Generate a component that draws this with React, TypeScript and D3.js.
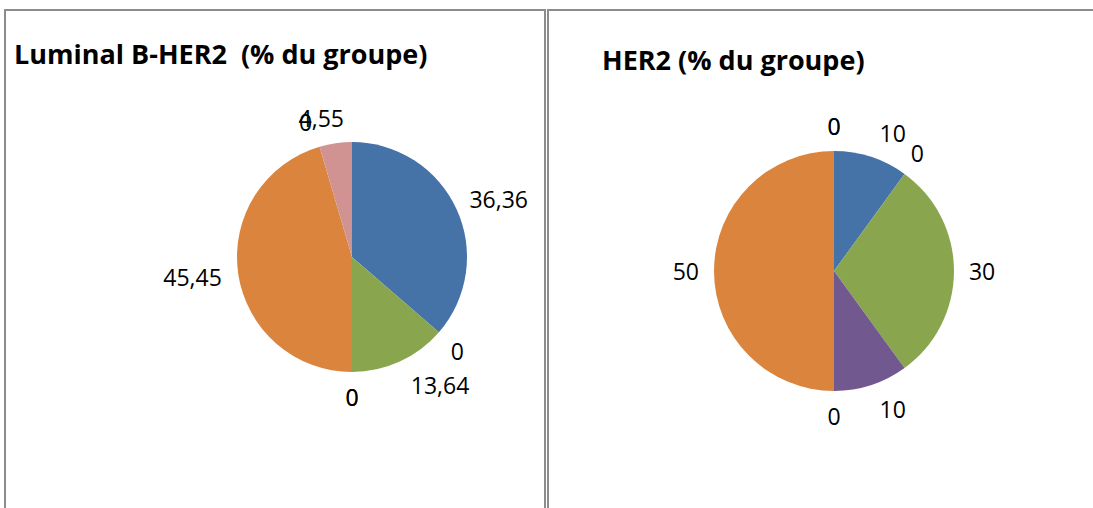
import React from "react";
import * as d3 from "d3";

const categories = ["A", "B", "C", "D", "E", "F", "G", "H"];
const colors = ["#4572A7", "#AA4643", "#89A54E", "#71588F", "#4198AF", "#DB843D", "#93A9CF", "#D19392"];
const luminalValues = [36.36, 0, 13.64, 0, 0, 45.45, 0, 4.55];
const her2Values = [10, 0, 30, 10, 0, 50, 0, 0];
const titles = ["Luminal B-HER2  (% du groupe)", "HER2 (% du groupe)"];

// label nudges (style only) to mimic Excel's collision handling
const luminalNudge = [[2, 0], [2, 2], [22, 0], [0, 0], [0, 0], [-2, 0], [-8, 0], [-9, 0]];
const her2Nudge = [[13, 0], [0, 0], [0, 0], [13, 0], [0, 0], [0, 0], [0, 0], [0, 0]];

const LABEL_FONT = "'Open Sans', 'Liberation Sans', sans-serif";
const FS = 23;

function fmt(v: number) {
  return String(v).replace(".", ",");
}
function textW(s: string) {
  let w = 0;
  for (const ch of s) w += ch === "," ? 0.25 : 0.57;
  return w * FS;
}

function Pie({ values, cx, cy, r, nudge }: { values: number[]; cx: number; cy: number; r: number; nudge: number[][] }) {
  const pie = d3.pie<number>().sort(null).value((d) => d)(values);
  const arc = d3.arc<d3.PieArcDatum<number>>().innerRadius(0).outerRadius(r);
  const gap = 15;
  const h = FS * 0.9;
  return (
    <g>
      <g transform={`translate(${cx},${cy})`}>
        {pie.map((p, i) =>
          p.value > 0 ? <path key={i} d={arc(p) || ""} fill={colors[i]} /> : null
        )}
      </g>
      {pie.map((p, i) => {
        const a = (p.startAngle + p.endAngle) / 2;
        const dx = Math.sin(a);
        const dy = -Math.cos(a);
        const label = fmt(p.value);
        const w = textW(label);
        const x = cx + dx * (r + gap) + (dx * w) / 2 + nudge[i][0];
        const y = cy + dy * (r + gap) + (dy * h) / 2 + nudge[i][1];
        return (
          <text
            key={"l" + i}
            x={x}
            y={y}
            textAnchor="middle"
            dominantBaseline="central"
            fontFamily={LABEL_FONT}
            fontSize={FS}
            fill="#000"
          >
            {label}
          </text>
        );
      })}
    </g>
  );
}

export default function App() {
  return (
    <svg
      width={1093}
      height={508}
      style={{ position: "absolute", left: 0, top: 0, background: "#fff" }}
    >
      <rect x={0} y={0} width={1093} height={508} fill="#fff" />
      <rect x={5} y={10} width={540} height={520} fill="none" stroke="#8c8c8c" strokeWidth={2} />
      <rect x={548} y={10} width={560} height={520} fill="none" stroke="#8c8c8c" strokeWidth={2} />
      <text
        x={14}
        y={64}
        fontFamily={LABEL_FONT}
        fontWeight="bold"
        fontSize={27}
        style={{ whiteSpace: "pre" }}
      >
        {titles[0]}
      </text>
      <text
        x={602}
        y={70}
        fontFamily={LABEL_FONT}
        fontWeight="bold"
        fontSize={27}
        style={{ whiteSpace: "pre" }}
      >
        {titles[1]}
      </text>
      <Pie values={luminalValues} cx={352} cy={257} r={115} nudge={luminalNudge} />
      <Pie values={her2Values} cx={834} cy={271} r={120} nudge={her2Nudge} />
    </svg>
  );
}
